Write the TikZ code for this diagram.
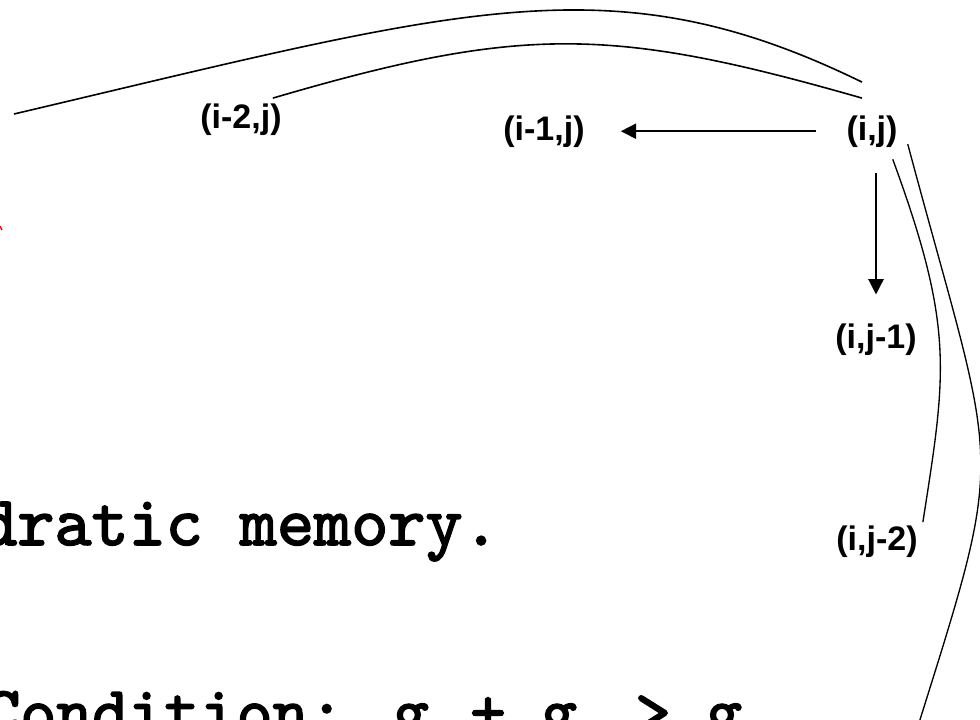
\documentclass[tikz,border=0pt]{standalone}
\usepackage{fontspec}
\setmainfont{Liberation Sans}
\newfontfamily\codefont{lmmono10-regular.otf}[FakeBold=2.2]
\usetikzlibrary{arrows.meta}
\begin{document}
\begin{tikzpicture}[x=0.75pt,y=-0.75pt,
  lbl/.style={font=\fontsize{25.5}{30}\selectfont\bfseries, inner sep=0pt, anchor=base},
  codetxt/.style={font=\codefont\fontsize{53}{58}\selectfont, inner sep=0pt, anchor=base west},
  condtxt/.style={font=\codefont\fontsize{51.5}{56}\selectfont, inner sep=0pt},
  conn/.style={line width=1.2pt},
  arr/.style={line width=1.1pt, -{Triangle[length=11.5pt,width=11.5pt]}}]
\path[use as bounding box] (0,0) rectangle (980,719);
\clip (0,0) rectangle (980,719);
\fill[white] (0,0) rectangle (980,719);

% labels
\node[lbl] (im2) at (241,128) {(i-2,j)};
\node[lbl] (im1) at (544,140) {(i-1,j)};
\node[lbl] (ij) at (872,140) {(i,j)};
\node[lbl] (ijm1) at (876,348) {(i,j-1)};
\node[lbl] (ijm2) at (877,550) {(i,j-2)};
\coordinate (im3) at (14,114);
\coordinate (ijm3) at (898,790);

% body text
\node[codetxt] (mem) at (-20,545) {dratic memory.};
\node[condtxt, anchor=base west] (cond) at (-16,734) {Condition: g};
\node[condtxt, anchor=base] (plus) at (488,734) {+};
\node[condtxt, anchor=base] (g2) at (559,734) {g};
\node[condtxt, anchor=base] (gt) at (653,734) {>};
\node[condtxt, anchor=base] (g3) at (724,734) {g};

% arrows
\draw[arr, shorten <=22.5pt, shorten >=27pt] (ij.west) -- (im1.east);
\draw[arr, shorten <=19.5pt, shorten >=21.5pt] (ij.south -| ijm1.north) -- (ijm1.north);

% curves
\draw[conn] ([shift={(-10,-33)}]ij.north) .. controls (612,-40) and (464,8) .. (im3);
\draw[conn] ([shift={(-10,-17)}]ij.north) .. controls (612,26.5) and (522,25) .. ([shift={(-9,-5)}]im2.north east);
\draw[line width=1pt] ([shift={(-5,12)}]ij.south east) .. controls (955,329) and (946,373) .. ([shift={(5,-3)}]ijm2.north east);
\draw[line width=1pt] ([shift={(10,13)}]ij.east) .. controls (1004,504) and (1009.6,430) .. (ijm3);

% red fragment at left edge
\draw[red, line width=1pt] (0,226) -- (2,230);
\end{tikzpicture}
\end{document}
